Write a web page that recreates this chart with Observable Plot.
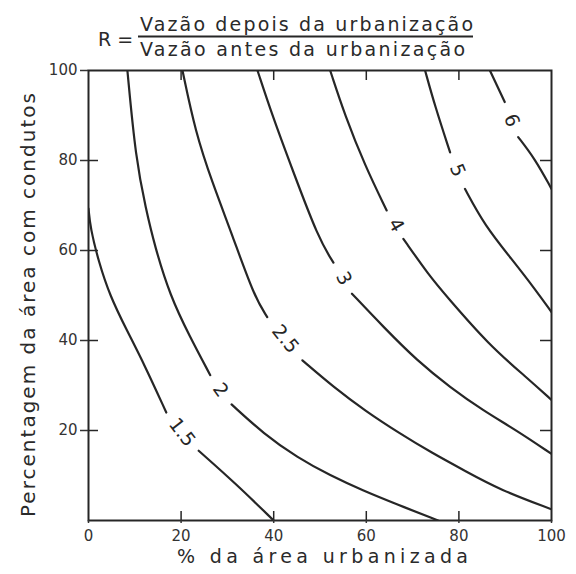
<!DOCTYPE html>
<html>
<head>
<meta charset="utf-8">
<script src="https://cdn.jsdelivr.net/npm/d3@7"></script>
<script src="https://cdn.jsdelivr.net/npm/@observablehq/plot@0.6"></script>
<style>
  body { margin: 0; background: #fff; }
  #chart svg { display: block; }
</style>
</head>
<body>
<div id="chart"></div>
<script>
// ---- data ----
const curveNames = ["1.5", "2", "2.5", "3", "4", "5", "6"];
// null marks the gap where the curve's label sits
const curve15 = [[0,69.3],[0.4,65],[2.2,57.5],[4.6,50],[8.3,42.2],[12,34.8],[16.8,24],null,[23.8,15.5],[31.8,8.2],[40,0]];
const curve2  = [[8.4,100],[10.2,80.4],[12.4,69.2],[14.3,61],[17.6,50],[21.8,41],[26.3,32.3],null,[30.9,25.8],[37.9,19.2],[45.1,14],[52.2,10],[59.4,6.6],[66.6,3.6],[75.5,0]];
const curve25 = [[20.3,100],[23.1,86.3],[26.7,75.2],[31.1,63.3],[35.8,49.8],[38.6,45.2],null,[46.2,35.6],[53,29.6],[60,24.2],[67,19.5],[74.2,15],[81.2,11.1],[88.9,6.8],[100,2.5]];
const curve3  = [[36.5,100],[39.7,90],[44,78.1],[49.7,62.6],[52.9,57.3],null,[56.9,50.4],[63.8,42.9],[71,35.5],[78.1,29.6],[85.3,24.4],[92.5,20],[100,14.8]];
const curve4  = [[52.2,100],[55.4,90],[59.7,78.9],[64.4,68.9],null,[68,62.6],[73.6,54.4],[77.2,50],[86.5,39],[94.6,31.8],[100,26.8]];
const curve5  = [[72.7,100],[74.8,92.2],[78.1,81.8],null,[81.3,73.7],[85.6,65.5],[91.4,58.1],[96.6,51.2],[100,46.3]];
const curve6  = [[86.7,100],[89.9,93],null,[92.8,85.2],[96.4,80.4],[100,73.7]];
const curves = [curve15, curve2, curve25, curve3, curve4, curve5, curve6];

const labelX = [20.2, 28.5, 42.5, 55.1, 66.4, 79.7, 91.4];
const labelY = [19.6, 29.0, 40.3, 53.8, 65.6, 77.8, 88.9];

const xTicks = [0, 20, 40, 60, 80, 100];
const yTicks = [20, 40, 60, 80, 100];
const innerTicks = [20, 40, 60, 80];

const titleR = "R =";
const titleNum = "Vazão depois da urbanização";
const titleDen = "Vazão antes da urbanização";
const xLabel = "% da área urbanizada";
const yLabel = "Percentagem da área com condutos";

// ---- styles ----
const labelAngles = [52, 54, 51, 62, 60, 68, 69];
const W = 576, H = 574;
const mT = 70, mB = 54, mL = 88, mR = 25;
const fw = W - mL - mR, fh = H - mT - mB;
const ink = "#262626";
const font = "DejaVu Sans";

// ---- tables ----
const lineRows = curves.flatMap((pts, i) => pts.map(p => p
  ? {r: curveNames[i], x: p[0], y: p[1]}
  : {r: curveNames[i], x: NaN, y: NaN}));
const labelRows = curveNames.map((t, i) => ({text: t, x: labelX[i], y: labelY[i], a: labelAngles[i]}));

const plot = Plot.plot({
  width: W, height: H,
  marginTop: mT, marginBottom: mB, marginLeft: mL, marginRight: mR,
  style: {fontFamily: font, fontSize: "15px", color: "#333", background: "#fff"},
  x: {domain: [0, 100]},
  y: {domain: [0, 100]},
  marks: [
    Plot.line(lineRows, {x: "x", y: "y", z: "r", curve: "basis", stroke: ink, strokeWidth: 2.2, clip: true}),
    Plot.text(labelRows, {x: "x", y: "y", text: "text", rotate: "a", fontSize: 19, fill: ink, stroke: "white", strokeWidth: 3, fontFamily: font}),
    Plot.frame({stroke: ink, strokeWidth: 2}),
    Plot.axisX({ticks: xTicks, tickSize: 3, tickPadding: 7, label: null, strokeWidth: 1.5, fontSize: 15}),
    Plot.axisY({ticks: yTicks, tickSize: 8, tickPadding: 3, label: null, strokeWidth: 1.5, fontSize: 15}),
    Plot.tickX(innerTicks, {x: d => d, insetTop: fh - 9, stroke: ink, strokeWidth: 1.5}),
    Plot.tickX(innerTicks, {x: d => d, insetBottom: fh - 10, stroke: ink, strokeWidth: 1.5}),
    Plot.tickY(innerTicks, {y: d => d, insetRight: fw - 10, stroke: ink, strokeWidth: 1.5}),
    Plot.tickY(innerTicks, {y: d => d, insetLeft: fw - 11, stroke: ink, strokeWidth: 1.5})
  ]
});

document.getElementById("chart").appendChild(plot);

// ---- title and axis titles as text ----
const svg = d3.select(plot);
const g = svg.append("g").attr("font-family", font).attr("fill", "#2a2a2a").attr("text-anchor", "start");
g.append("text").attr("x", 98).attr("y", 46).attr("font-size", 19).text(titleR);
g.append("text").attr("x", 140).attr("y", 31).attr("font-size", 19)
  .attr("textLength", 333).attr("lengthAdjust", "spacing").text(titleNum);
g.append("line").attr("x1", 138).attr("x2", 473).attr("y1", 36.5).attr("y2", 36.5)
  .attr("stroke", ink).attr("stroke-width", 2);
g.append("text").attr("x", 140).attr("y", 56).attr("font-size", 19)
  .attr("textLength", 325).attr("lengthAdjust", "spacing").text(titleDen);
g.append("text").attr("x", 177).attr("y", 563).attr("font-size", 19)
  .attr("textLength", 291).attr("lengthAdjust", "spacing").text(xLabel);
g.append("text").attr("transform", "translate(35,305) rotate(-90)").attr("text-anchor", "middle")
  .attr("font-size", 20).attr("textLength", 424).attr("lengthAdjust", "spacing").text(yLabel);
</script>
</body>
</html>
